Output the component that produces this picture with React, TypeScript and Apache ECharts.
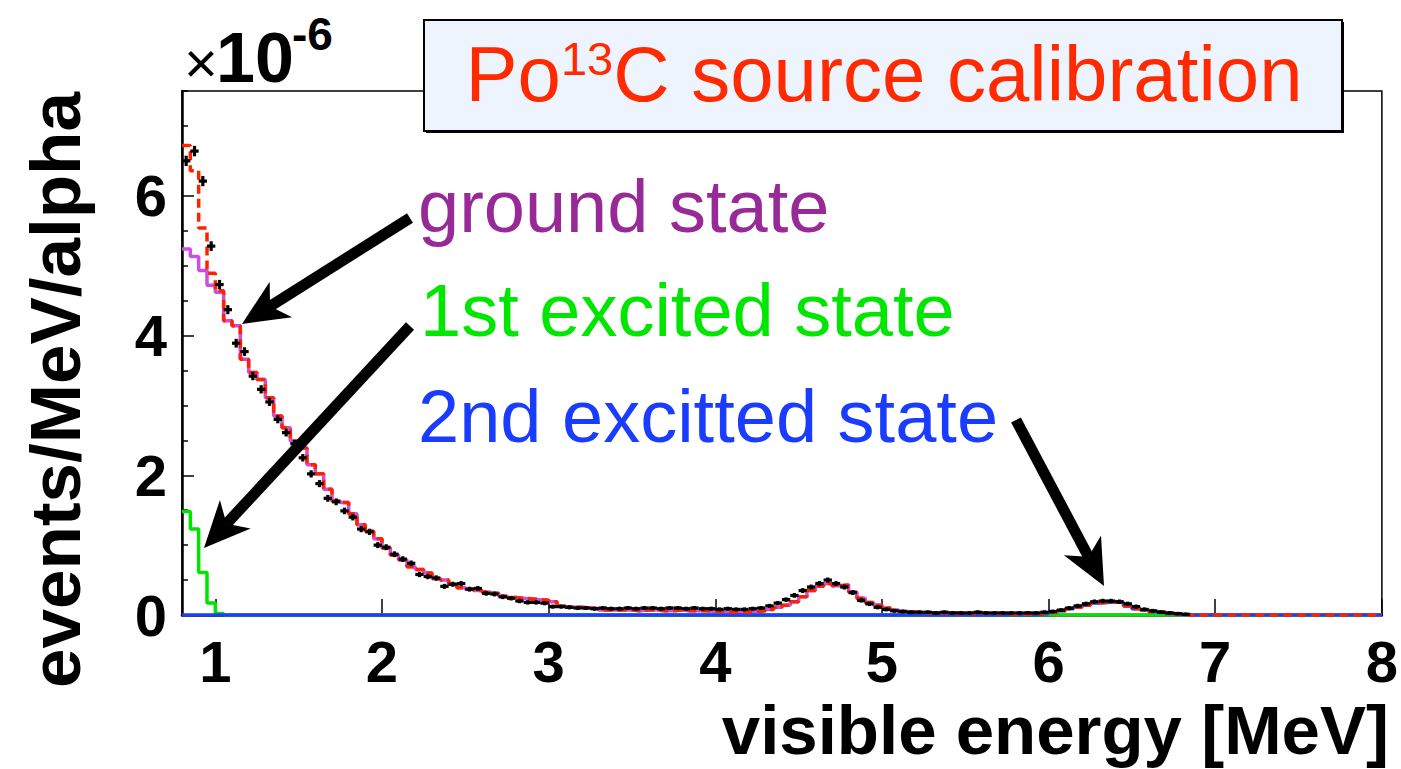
import { useEffect, useRef } from 'react';
import * as echarts from 'echarts';

// Histogram binning (MeV): 144 bins of 0.05 MeV from 0.80 to 8.00
const BIN_START = 0.8;
const BIN_WIDTH = 0.05;
const X_MIN = 0.8;
const X_MAX = 8;
const Y_MIN = 0;
const Y_MAX = 7.5;

const xTickValues = [1, 2, 3, 4, 5, 6, 7, 8];
const yLabelValues = [0, 2, 4, 6];
const yMinorTickValues = [0.5, 1, 1.5, 2.5, 3, 3.5, 4.5, 5, 5.5, 6.5, 7, 7.5];

// Simulated spectra, units of 1e-6 events/MeV/alpha, one value per bin
const groundState = [
  5.24, 5.13, 4.93, 4.72, 4.62, 4.21, 4.14, 3.66, 3.47, 3.37,
  3.11, 2.85, 2.68, 2.49, 2.39, 2.15, 2.02, 1.80, 1.63, 1.61,
  1.45, 1.29, 1.20, 1.09, 0.96, 0.86, 0.79, 0.69, 0.65, 0.60,
  0.52, 0.50, 0.44, 0.39, 0.37, 0.35, 0.33, 0.31, 0.27, 0.25,
  0.24, 0.23, 0.22, 0.21, 0.19, 0.13, 0.11, 0.11, 0.10, 0.09,
  0.07, 0.07, 0.07, 0.07, 0.06, 0.07, 0.07, 0.06, 0.06, 0.07,
  0.06, 0.06, 0.06, 0.05, 0.05, 0.04, 0.04, 0.04, 0.05, 0.06,
  0.08, 0.11, 0.14, 0.19, 0.26, 0.35, 0.41, 0.45, 0.42, 0.43,
  0.33, 0.24, 0.18, 0.14, 0.10, 0.07, 0.05, 0.04, 0.03, 0.03,
  0.03, 0.03, 0.02, 0.02, 0.02, 0.02, 0.02, 0.02, 0.02, 0.01,
  0.01, 0.01, 0.01, 0.01, 0, 0, 0, 0, 0, 0,
  0, 0, 0, 0, 0, 0, 0, 0, 0, 0,
  0, 0, 0, 0, 0, 0, 0, 0, 0, 0,
  0, 0, 0, 0, 0, 0, 0, 0, 0, 0,
  0, 0, 0, 0,
];

const firstExcited = [
  1.48, 1.23, 0.61, 0.17, 0.02, 0, 0, 0, 0, 0,
  0, 0, 0, 0, 0, 0, 0, 0, 0, 0,
  0, 0, 0, 0, 0, 0, 0, 0, 0, 0,
  0, 0, 0, 0, 0, 0, 0, 0, 0, 0,
  0, 0, 0, 0, 0, 0, 0, 0, 0, 0,
  0, 0, 0, 0, 0, 0, 0, 0, 0, 0,
  0, 0, 0, 0, 0, 0, 0, 0, 0, 0,
  0, 0, 0, 0, 0, 0, 0, 0, 0, 0,
  0, 0, 0, 0, 0, 0, 0, 0, 0, 0,
  0, 0, 0, 0, 0, 0, 0, 0, 0, 0,
  0, 0, 0, 0, 0, 0, 0, 0, 0, 0,
  0, 0, 0, 0, 0, 0, 0, 0, 0, 0,
  0, 0, 0, 0, 0, 0, 0, 0, 0, 0,
  0, 0, 0, 0, 0, 0, 0, 0, 0, 0,
  0, 0, 0, 0,
];

const secondExcited = [
  0, 0, 0, 0, 0, 0, 0, 0, 0, 0,
  0, 0, 0, 0, 0, 0, 0, 0, 0, 0,
  0, 0, 0, 0, 0, 0, 0, 0, 0, 0,
  0, 0, 0, 0, 0, 0, 0, 0, 0, 0,
  0, 0, 0, 0, 0, 0, 0, 0, 0, 0,
  0, 0, 0, 0, 0, 0, 0, 0, 0, 0,
  0, 0, 0, 0, 0, 0, 0, 0, 0, 0,
  0, 0, 0, 0, 0, 0, 0, 0, 0, 0,
  0, 0, 0, 0, 0, 0, 0, 0, 0, 0,
  0, 0, 0, 0, 0, 0, 0, 0, 0, 0,
  0, 0, 0.01, 0.02, 0.04, 0.06, 0.09, 0.11, 0.14, 0.17,
  0.18, 0.19, 0.18, 0.13, 0.09, 0.07, 0.05, 0.04, 0.02, 0.01,
  0, 0, 0, 0, 0, 0, 0, 0, 0, 0,
  0, 0, 0, 0, 0, 0, 0, 0, 0, 0,
  0, 0, 0, 0,
];

// Measured spectrum (bin contents, same binning)
const measured = [
  6.50, 6.64, 6.21, 5.28, 4.73, 4.37, 3.89, 3.77, 3.42, 3.23,
  3.05, 2.80, 2.61, 2.45, 2.25, 2.02, 1.88, 1.67, 1.62, 1.49,
  1.40, 1.23, 1.19, 1.00, 0.97, 0.87, 0.80, 0.74, 0.58, 0.55,
  0.53, 0.41, 0.44, 0.45, 0.37, 0.38, 0.31, 0.30, 0.26, 0.24,
  0.20, 0.18, 0.18, 0.17, 0.12, 0.12, 0.11, 0.10, 0.10, 0.09,
  0.10, 0.09, 0.09, 0.10, 0.09, 0.10, 0.10, 0.09, 0.10, 0.10,
  0.09, 0.10, 0.09, 0.09, 0.08, 0.09, 0.08, 0.08, 0.09, 0.10,
  0.13, 0.17, 0.22, 0.28, 0.35, 0.40, 0.45, 0.50, 0.45, 0.40,
  0.32, 0.21, 0.16, 0.11, 0.08, 0.06, 0.05, 0.04, 0.04, 0.04,
  0.03, 0.04, 0.03, 0.03, 0.03, 0.04, 0.03, 0.03, 0.03, 0.03,
  0.03, 0.03, 0.03, 0.04, 0.05, 0.07, 0.10, 0.13, 0.16, 0.19,
  0.20, 0.20, 0.19, 0.16, 0.12, 0.08, 0.06, 0.04, 0.03, 0.02,
  0.01, 0, 0, 0, 0, 0, 0, 0, 0, 0,
  0, 0, 0, 0, 0, 0, 0, 0, 0, 0,
  0, 0, 0, 0,
];

const FONT = '"Liberation Sans", Arial, Helvetica, sans-serif';

const binLow = (i: number) => Math.round((BIN_START + i * BIN_WIDTH) * 1000) / 1000;

// Step-histogram points: value held from each bin's low edge to the next edge
function stepData(values: number[]) {
  const pts = values.map((v, i) => [binLow(i), v]);
  pts.push([X_MAX, values[values.length - 1]]);
  return pts;
}

const totalFit = groundState.map(
  (v, i) => Math.round((v + firstExcited[i] + secondExcited[i]) * 1000) / 1000
);

const measuredPoints = measured
  .map((v, i) => [Math.round((binLow(i) + BIN_WIDTH / 2) * 1000) / 1000, v])
  .filter((p) => p[1] > 0);

function arrow(x1: number, y1: number, x2: number, y2: number) {
  const dx = x2 - x1;
  const dy = y2 - y1;
  const len = Math.hypot(dx, dy);
  const ux = dx / len;
  const uy = dy / len;
  const headLen = 46;
  const headHalf = 21;
  const bx = x2 - ux * headLen;
  const by = y2 - uy * headLen;
  const nx = x2 - ux * headLen * 0.72;
  const ny = y2 - uy * headLen * 0.72;
  return [
    {
      type: 'line',
      z: 100,
      shape: { x1, y1, x2: nx, y2: ny },
      style: { stroke: '#000', lineWidth: 11, lineCap: 'butt' },
    },
    {
      type: 'polygon',
      z: 100,
      shape: {
        points: [
          [x2, y2],
          [bx - uy * headHalf, by + ux * headHalf],
          [nx, ny],
          [bx + uy * headHalf, by - ux * headHalf],
        ],
      },
      style: { fill: '#000' },
    },
  ];
}

export default function App() {
  const ref = useRef<HTMLDivElement>(null);

  useEffect(() => {
    document.body.style.margin = '0';
    if (!ref.current) return;
    const chart = echarts.init(ref.current, null, { renderer: 'svg' });

    const gridRect = { left: 182, right: 15, top: 91, bottom: 154 };
    const tickLine = { color: '#000', width: 1.5 };
    const tickLabel = {
      fontSize: 58,
      fontWeight: 'bold' as const,
      color: '#000',
      fontFamily: FONT,
    };

    const option: any = {
      animation: false,
      backgroundColor: '#fff',
      grid: [
        { ...gridRect, show: true, borderColor: '#000', borderWidth: 1.5 },
        { ...gridRect },
      ],
      xAxis: [
        {
          type: 'value',
          gridIndex: 0,
          min: X_MIN,
          max: X_MAX,
          axisLine: { show: true, onZero: false, lineStyle: { color: '#000', width: 2.5 } },
          axisTick: { show: true, inside: true, length: 16, customValues: xTickValues, lineStyle: tickLine },
          axisLabel: { ...tickLabel, customValues: xTickValues, margin: 17 },
          splitLine: { show: false },
        },
        { type: 'value', gridIndex: 1, min: X_MIN, max: X_MAX, show: false },
      ],
      yAxis: [
        {
          type: 'value',
          gridIndex: 0,
          min: Y_MIN,
          max: Y_MAX,
          axisLine: { show: true, onZero: false, lineStyle: { color: '#000', width: 2.5 } },
          axisTick: { show: true, inside: true, length: 12, customValues: yLabelValues, lineStyle: tickLine },
          axisLabel: { ...tickLabel, customValues: yLabelValues, margin: 15 },
          splitLine: { show: false },
        },
        {
          type: 'value',
          gridIndex: 1,
          min: Y_MIN,
          max: Y_MAX,
          axisLine: { show: false },
          axisTick: { show: true, inside: true, length: 6, customValues: yMinorTickValues, lineStyle: tickLine },
          axisLabel: { show: false },
          splitLine: { show: false },
        },
      ],
      series: [
        {
          name: 'ground state',
          type: 'line',
          step: 'end',
          data: stepData(groundState),
          symbol: 'none',
          z: 2,
          lineStyle: { color: '#cc4fe0', width: 3.5 },
        },
        {
          name: '1st excited state',
          type: 'line',
          step: 'end',
          data: stepData(firstExcited),
          symbol: 'none',
          z: 3,
          lineStyle: { color: '#00e400', width: 3.5 },
        },
        {
          name: '2nd excitted state',
          type: 'line',
          step: 'end',
          data: stepData(secondExcited),
          symbol: 'none',
          z: 4,
          lineStyle: { color: '#1f3cff', width: 3.5 },
        },
        {
          name: 'total',
          type: 'line',
          step: 'end',
          data: stepData(totalFit),
          symbol: 'none',
          z: 5,
          lineStyle: { color: '#ff2200', width: 3.5, type: [9, 5] },
        },
        {
          name: 'data',
          type: 'custom',
          z: 6,
          data: measuredPoints,
          renderItem: (_params: any, api: any) => {
            const v = api.value(1);
            const c = api.coord([api.value(0), v]);
            const w = api.size([BIN_WIDTH, 0])[0];
            const half = 1.6 + 1.4 * Math.sqrt(v);
            return {
              type: 'group',
              children: [
                { type: 'rect', shape: { x: c[0] - w / 2, y: c[1] - 1.6, width: w, height: 3.2 }, style: { fill: '#000' } },
                { type: 'rect', shape: { x: c[0] - 1.6, y: c[1] - half, width: 3.2, height: 2 * half }, style: { fill: '#000' } },
              ],
            };
          },
        },
      ],
      graphic: [
        // multiplier above the y axis
        {
          type: 'text',
          z: 100,
          x: 184,
          y: 62,
          style: { text: '×', fontSize: 58, fontFamily: FONT, fill: '#000', verticalAlign: 'middle' },
        },
        {
          type: 'text',
          z: 100,
          x: 216,
          y: 58,
          style: { text: '10', fontSize: 70, fontWeight: 'bold', fontFamily: FONT, fill: '#000', verticalAlign: 'middle' },
        },
        {
          type: 'text',
          z: 100,
          x: 292,
          y: 34,
          style: { text: '-6', fontSize: 46, fontWeight: 'bold', fontFamily: FONT, fill: '#000', verticalAlign: 'middle' },
        },
        // title box with drop shadow
        { type: 'rect', z: 90, shape: { x: 426, y: 22, width: 918, height: 111 }, style: { fill: '#000' } },
        {
          type: 'rect',
          z: 91,
          shape: { x: 424, y: 20, width: 918, height: 111 },
          style: { fill: '#eef4fe', stroke: '#000', lineWidth: 2 },
        },
        {
          type: 'text',
          z: 92,
          x: 884,
          y: 74,
          style: {
            text: '{a|Po}{s|13}{a|C source calibration}',
            align: 'center',
            verticalAlign: 'middle',
            rich: {
              a: { fontSize: 78, fontFamily: FONT, fill: '#ff2a00', verticalAlign: 'bottom' },
              s: { fontSize: 47, fontFamily: FONT, fill: '#ff2a00', verticalAlign: 'top' },
            },
          },
        },
        // component labels
        {
          type: 'text',
          z: 100,
          x: 418,
          y: 206,
          style: { text: 'ground state', fontSize: 74, fontFamily: FONT, fill: '#982a98', verticalAlign: 'middle' },
        },
        {
          type: 'text',
          z: 100,
          x: 420,
          y: 310,
          style: { text: '1st excited state', fontSize: 74, fontFamily: FONT, fill: '#00e600', verticalAlign: 'middle' },
        },
        {
          type: 'text',
          z: 100,
          x: 418,
          y: 416,
          style: { text: '2nd excitted state', fontSize: 74, fontFamily: FONT, fill: '#1a3cff', verticalAlign: 'middle' },
        },
        ...arrow(410, 218, 242, 324),
        ...arrow(410, 326, 204, 548),
        ...arrow(1016, 420, 1104, 586),
        // axis titles
        {
          type: 'text',
          z: 100,
          x: 1389,
          y: 730,
          style: {
            text: 'visible energy [MeV]',
            fontSize: 69,
            lineHeight: 69,
            fontWeight: 'bold',
            fontFamily: FONT,
            fill: '#000',
            align: 'right',
            verticalAlign: 'middle',
          },
        },
        {
          type: 'text',
          z: 100,
          x: 55,
          y: 390,
          rotation: Math.PI / 2,
          style: {
            text: 'events/MeV/alpha',
            fontSize: 71,
            fontWeight: 'bold',
            fontFamily: FONT,
            fill: '#000',
            align: 'center',
            verticalAlign: 'middle',
          },
        },
      ],
    };

    chart.setOption(option);
    return () => chart.dispose();
  }, []);

  return <div ref={ref} style={{ width: 1401, height: 769 }} />;
}
